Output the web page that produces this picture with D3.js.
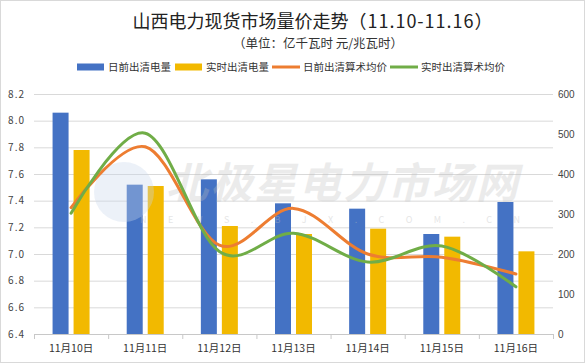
<!DOCTYPE html>
<html>
<head>
<meta charset="utf-8">
<script src="https://cdn.jsdelivr.net/npm/d3@7"></script>
<style>
  html, body { margin: 0; padding: 0; background: #fff; }
  svg { display: block; font-family: "Noto Sans CJK SC", "Noto Sans", sans-serif; }
</style>
</head>
<body>
<script>
// 山西电力现货市场量价走势 data
const categories = ['11月10日', '11月11日', '11月12日', '11月13日', '11月14日', '11月15日', '11月16日'];
const dayAheadVolume = [8.06, 7.52, 7.56, 7.38, 7.34, 7.15, 7.39];   // 日前出清电量
const realTimeVolume = [7.78, 7.51, 7.21, 7.15, 7.19, 7.13, 7.02];   // 实时出清电量
const dayAheadPrice = [316, 468, 222, 314, 200, 192, 150];           // 日前出清算术均价
const realTimePrice = [302, 502, 206, 252, 180, 220, 118];           // 实时出清算术均价
const leftTicks = [6.4, 6.6, 6.8, 7.0, 7.2, 7.4, 7.6, 7.8, 8.0, 8.2];
const rightTicks = [0, 100, 200, 300, 400, 500, 600];

const width = 585, height = 363;
const margin = { top: 94, right: 32, bottom: 29, left: 34 };
const innerW = width - margin.left - margin.right;
const innerH = height - margin.top - margin.bottom;

const colors = { blue: '#4472C4', gold: '#F2B900', orange: '#ED7D31', green: '#70AD47' };

const svg = d3.select('body').append('svg')
  .attr('width', width).attr('height', height);

// outer frame
svg.append('rect')
  .attr('x', 0.5).attr('y', 0.5)
  .attr('width', width - 1).attr('height', height - 1)
  .attr('fill', '#fff').attr('stroke', '#d9d9d9');

// titles
const title = svg.append('text')
  .attr('x', 313).attr('y', 28)
  .attr('text-anchor', 'middle')
  .attr('font-size', 18).attr('fill', '#222');
title.append('tspan').text('山西电力现货市场量价走势');
title.append('tspan').attr('letter-spacing', 1).text('（11.10-11.16）');
svg.append('text')
  .attr('x', 318).attr('y', 48)
  .attr('text-anchor', 'middle')
  .attr('font-size', 12.5).attr('fill', '#333')
  .text('（单位：亿千瓦时 元/兆瓦时）');

// legend
const legendItems = [
  { name: '日前出清电量', color: colors.blue, type: 'rect', x: 77 },
  { name: '实时出清电量', color: colors.gold, type: 'rect', x: 175 },
  { name: '日前出清算术均价', color: colors.orange, type: 'line', x: 272 },
  { name: '实时出清算术均价', color: colors.green, type: 'line', x: 390 }
];
const legend = svg.append('g').attr('transform', 'translate(0,67)');
legendItems.forEach(function(d) {
  if (d.type === 'rect') {
    legend.append('rect').attr('x', d.x).attr('y', -3.5)
      .attr('width', 27).attr('height', 7).attr('fill', d.color);
  } else {
    legend.append('line').attr('x1', d.x).attr('x2', d.x + 28)
      .attr('y1', 0).attr('y2', 0)
      .attr('stroke', d.color).attr('stroke-width', 3);
  }
  legend.append('text').attr('x', d.x + 31).attr('y', 4)
    .attr('font-size', 10.5).attr('fill', '#333')
    .text(d.name);
});

const canvas = svg.append('g')
  .attr('transform', 'translate(' + margin.left + ',' + margin.top + ')');

// scales
const xScale = d3.scaleBand().domain(categories).range([0, innerW]).paddingInner(0).paddingOuter(0);
const yLeft = d3.scaleLinear().domain([6.4, 8.2]).range([innerH, 0]);
const yRight = d3.scaleLinear().domain([0, 600]).range([innerH, 0]);

// horizontal grid
canvas.append('g')
  .call(d3.axisLeft(yLeft).tickValues(leftTicks.slice(1)).tickSize(-innerW).tickFormat(''))
  .call(g => g.select('.domain').remove())
  .call(g => g.selectAll('line').attr('stroke', '#d9d9d9'));

// left axis labels
canvas.append('g')
  .call(d3.axisLeft(yLeft).tickValues(leftTicks).tickSize(0).tickPadding(9).tickFormat(d3.format('.1f')))
  .call(g => g.select('.domain').remove())
  .call(g => g.selectAll('text').attr('font-size', 10).attr('fill', '#444')
    .attr('font-family', '"Noto Sans CJK SC", sans-serif').attr('letter-spacing', 1));

// right axis labels
canvas.append('g')
  .attr('transform', 'translate(' + innerW + ',0)')
  .call(d3.axisRight(yRight).tickValues(rightTicks).tickSize(0).tickPadding(5))
  .call(g => g.select('.domain').remove())
  .call(g => g.selectAll('text').attr('font-size', 10).attr('fill', '#444')
    .attr('font-family', '"Liberation Sans Narrow", "Liberation Sans", sans-serif'));

// bars
const barW = 16, barGap = 5;
const groupOffset = (xScale.bandwidth() - (barW * 2 + barGap)) / 2;
canvas.append('g').selectAll('rect')
  .data(categories)
  .join('rect')
  .attr('x', (d) => xScale(d) + groupOffset)
  .attr('y', (d, i) => yLeft(dayAheadVolume[i]))
  .attr('width', barW)
  .attr('height', (d, i) => innerH - yLeft(dayAheadVolume[i]))
  .attr('fill', colors.blue);
canvas.append('g').selectAll('rect')
  .data(categories)
  .join('rect')
  .attr('x', (d) => xScale(d) + groupOffset + barW + barGap)
  .attr('y', (d, i) => yLeft(realTimeVolume[i]))
  .attr('width', barW)
  .attr('height', (d, i) => innerH - yLeft(realTimeVolume[i]))
  .attr('fill', colors.gold);

// x axis
canvas.append('g')
  .attr('transform', 'translate(0,' + innerH + ')')
  .call(d3.axisBottom(d3.scaleLinear().domain([0, categories.length]).range([0, innerW]))
    .ticks(categories.length).tickSize(5).tickFormat(''))
  .call(g => g.select('.domain').attr('stroke', '#c8c8c8'))
  .call(g => g.selectAll('line').attr('stroke', '#c8c8c8'));
canvas.append('g')
  .attr('transform', 'translate(0,' + innerH + ')')
  .call(d3.axisBottom(xScale).tickSize(0).tickPadding(11))
  .call(g => g.select('.domain').remove())
  .call(g => g.selectAll('text').attr('font-size', 10.5).attr('fill', '#333')
    .attr('font-family', '"Noto Sans CJK SC", sans-serif'));

// watermark
const wm = svg.append('g').attr('pointer-events', 'none');
wm.append('circle').attr('cx', 124).attr('cy', 192).attr('r', 30)
  .attr('fill', '#c9d6ea').attr('opacity', 0.35);
wm.append('text')
  .attr('x', 166).attr('y', 198)
  .attr('font-size', 42).attr('font-weight', 'bold').attr('font-style', 'italic')
  .attr('fill', '#bfbfbf').attr('opacity', 0.3)
  .attr('textLength', 352)
  .text('北极星电力市场网');
wm.append('text')
  .attr('x', 140).attr('y', 223)
  .attr('font-size', 9).attr('fill', '#bfbfbf').attr('opacity', 0.4)
  .attr('textLength', 380)
  .text('N E W S . B J X . C O M . C N');

// price lines
const lineGen = (vals) => d3.line()
  .x((d, i) => margin.left + xScale(categories[i]) + xScale.bandwidth() / 2)
  .y((d) => margin.top + yRight(d))
  .curve(d3.curveCardinal.tension(0))(vals);

svg.append('path')
  .attr('d', lineGen(dayAheadPrice))
  .attr('fill', 'none').attr('stroke', colors.orange)
  .attr('stroke-width', 3).attr('stroke-linecap', 'round');
svg.append('path')
  .attr('d', lineGen(realTimePrice))
  .attr('fill', 'none').attr('stroke', colors.green)
  .attr('stroke-width', 3).attr('stroke-linecap', 'round');
</script>
</body>
</html>
